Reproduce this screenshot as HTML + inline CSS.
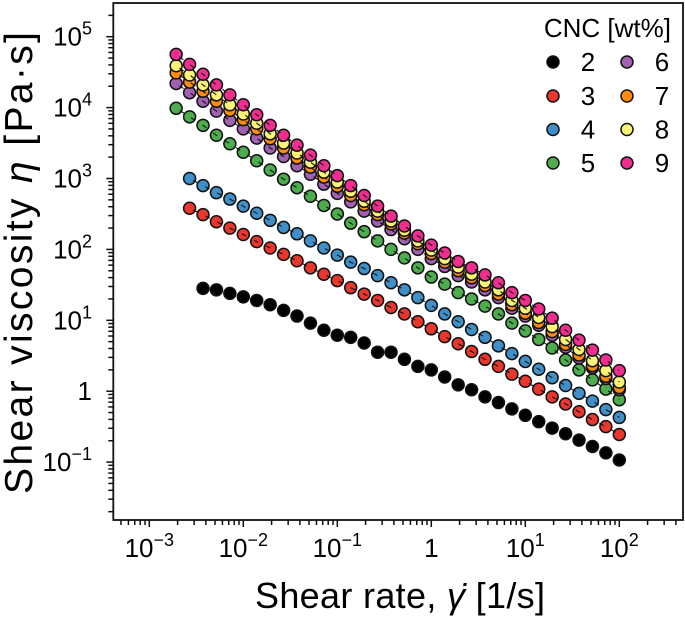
<!DOCTYPE html>
<html><head><meta charset="utf-8"><style>
html,body{margin:0;padding:0;background:#fff;}
svg{display:block;font-family:"Liberation Sans",Arial,sans-serif;}
</style></head><body>
<svg id="chart" width="685" height="617" viewBox="0 0 685 617" xmlns="http://www.w3.org/2000/svg">
<g id="plot"></g>
<g id="axes"></g>
<g id="legend"></g>
<text transform="translate(32,263) rotate(-90)" text-anchor="middle" font-size="39" textLength="462" lengthAdjust="spacing">Shear viscosity <tspan font-style="italic">η</tspan> [Pa·s]</text>
<text x="400" y="608" text-anchor="middle" font-size="36" textLength="290" lengthAdjust="spacing">Shear rate, <tspan font-style="italic">γ̇</tspan> [1/s]</text>
</svg>
<script>
// shear rate grid (1/s), 7 points per decade
const rates = [0.001931,0.002683,0.003728,0.005179,0.007197,0.01,0.01389,0.01931,0.02683,0.03728,0.05179,0.07197,0.1,0.1389,0.1931,0.2683,0.3728,0.5179,0.7197,1,1.389,1.931,2.683,3.728,5.179,7.197,10,13.89,19.31,26.83,37.28,51.79,71.97,100];
const seriesNames = ["2","3","4","5","6","7","8","9"];
const seriesStart = [2,1,1,0,0,0,0,0];
const logEta2 = [1.45,1.43,1.38,1.33,1.28,1.22,1.14,1.06,0.96,0.86,0.79,0.76,0.68,0.55,0.55,0.45,0.35,0.30,0.20,0.09,0.02,-0.08,-0.16,-0.25,-0.34,-0.43,-0.52,-0.60,-0.69,-0.78,-0.87,-0.97];
const logEta3 = [2.58,2.49,2.39,2.30,2.21,2.11,2.02,1.93,1.84,1.74,1.65,1.56,1.46,1.37,1.28,1.18,1.09,0.98,0.88,0.77,0.67,0.56,0.45,0.35,0.24,0.14,0.03,-0.08,-0.18,-0.29,-0.40,-0.50,-0.61];
const logEta4 = [3.00,2.90,2.80,2.71,2.61,2.51,2.41,2.31,2.22,2.12,2.02,1.92,1.82,1.73,1.63,1.53,1.43,1.32,1.21,1.09,0.98,0.87,0.76,0.64,0.53,0.42,0.31,0.19,0.08,-0.03,-0.14,-0.26,-0.37];
const logEta5 = [3.99,3.87,3.75,3.61,3.49,3.37,3.25,3.12,2.99,2.87,2.75,2.62,2.50,2.37,2.25,2.12,2.00,1.88,1.74,1.61,1.51,1.39,1.30,1.20,1.09,0.96,0.85,0.73,0.61,0.44,0.30,0.16,0.03,-0.12];
const logEta6 = [4.34,4.21,4.09,3.95,3.82,3.70,3.57,3.43,3.31,3.18,3.06,2.92,2.79,2.67,2.54,2.40,2.28,2.15,2.00,1.87,1.76,1.63,1.54,1.43,1.32,1.17,1.06,0.93,0.79,0.62,0.47,0.33,0.18,0.02];
const logEta7 = [4.49,4.36,4.23,4.09,3.96,3.83,3.70,3.56,3.43,3.29,3.16,3.02,2.89,2.76,2.63,2.49,2.36,2.23,2.08,1.94,1.82,1.70,1.60,1.49,1.37,1.22,1.10,0.97,0.84,0.66,0.51,0.36,0.21,0.05];
const logEta8 = [4.59,4.46,4.32,4.18,4.04,3.91,3.78,3.63,3.50,3.36,3.23,3.09,2.95,2.82,2.68,2.54,2.40,2.27,2.12,1.99,1.87,1.75,1.65,1.54,1.43,1.28,1.17,1.04,0.91,0.73,0.59,0.43,0.29,0.13];
const logEta9 = [4.75,4.61,4.47,4.32,4.18,4.04,3.90,3.75,3.61,3.47,3.33,3.18,3.04,2.90,2.76,2.61,2.47,2.33,2.19,2.06,1.95,1.83,1.74,1.64,1.53,1.39,1.28,1.16,1.03,0.86,0.72,0.58,0.44,0.29];
const seriesColors = ["#000000","#e8372c","#3f8fc8","#4dad4e","#a160b0","#ff8c0a","#fbf476","#ef2e8f"];
const xTickExps = [-3,-2,-1,0,1,2];
const yTickExps = [-1,0,1,2,3,4,5];

const NS="http://www.w3.org/2000/svg";
const L=113.3,R=683,T=3,B=520;
const X0=149.3, XD=94.0, Y0=36.7, YD=70.9;
function xs(v){return X0+(Math.log10(v)+3)*XD;}
function ysLog(l){return Y0+(5-l)*YD;}
function mk(tag,attrs,parent){const e=document.createElementNS(NS,tag);for(const k in attrs)e.setAttribute(k,attrs[k]);if(parent)parent.appendChild(e);return e;}

const plot=document.getElementById('plot');
const axes=document.getElementById('axes');
const allEta=[logEta2,logEta3,logEta4,logEta5,logEta6,logEta7,logEta8,logEta9];
allEta.forEach((arr,si)=>{
  const g=mk('g',{},plot);
  
  
  const pts=[];
  arr.forEach((v,i)=>{
    const cx=xs(rates[i+seriesStart[si]]), cy=ysLog(v);
    pts.push(cx.toFixed(1)+','+cy.toFixed(1));
    const c=mk('circle',{cx:cx,cy:cy,r:6,fill:seriesColors[si],stroke:'#111','stroke-width':1.5},g);
    
    
  });
  if(si>0){
    const pl=mk('polyline',{points:pts.join(' '),fill:'none',stroke:'#111','stroke-width':1.1,'stroke-dasharray':'5 8.5','stroke-dashoffset':'-4'},g);
    
    
  }
});

// frame
const fr=mk('rect',{x:L,y:T,width:R-L,height:B-T,fill:'none',stroke:'#111','stroke-width':1.8},axes);



function addLabel(t,e){
  if(e===0){t.textContent='1';}
  else{
    const a=mk('tspan',{},t);a.textContent='10';
    const b=mk('tspan',{dy:-11,'font-size':18},t);b.textContent=(e<0?'\u2212':'')+Math.abs(e);
  }
}
// x ticks
for(let e=-4;e<=2;e++){
  for(let m=1;m<10;m++){
    const x=X0+(e+3+Math.log10(m))*XD;
    if(x<L+1||x>R-1)continue;
    const len=m===1?7:5;
    const t=mk('line',{x1:x,y1:B,x2:x,y2:B+len,stroke:'#111','stroke-width':1.5},axes);
    
    
  }
}
xTickExps.forEach(e=>{
  const x=X0+(e+3)*XD;
  const t=mk('text',{x:x,y:557,'text-anchor':'middle','font-size':26},axes);
  
  
  addLabel(t,e);
});
// y ticks
for(let e=-2;e<=5;e++){
  for(let m=1;m<10;m++){
    const y=Y0+(5-(e+Math.log10(m)))*YD;
    if(y<T+1||y>B-1)continue;
    const len=m===1?7:5;
    const t=mk('line',{x1:L-len,y1:y,x2:L,y2:y,stroke:'#111','stroke-width':1.5},axes);
    
    
  }
}
yTickExps.forEach(e=>{
  const y=Y0+(5-e)*YD+9;
  const t=mk('text',{x:92,y:y,'text-anchor':'end','font-size':26},axes);
  
  
  addLabel(t,e);
});

// legend
const lg=document.getElementById('legend');
const lt=mk('text',{x:671,y:37,'text-anchor':'end','font-size':26},lg);
lt.textContent='CNC [wt%]';


const rowY=[62,96,129.5,163];
seriesNames.forEach((n,i)=>{
  const col=i<4?0:1,row=i%4;
  const mx=col?627:553, lx=col?662:588;
  const g=mk('g',{},lg);
  
  
  mk('circle',{cx:mx,cy:rowY[row],r:6,fill:seriesColors[i],stroke:'#111','stroke-width':1.5},g);
  const t=mk('text',{x:lx,y:rowY[row]+9,'text-anchor':'middle','font-size':26},g);
  t.textContent=n;
});
</script>
</body></html>
